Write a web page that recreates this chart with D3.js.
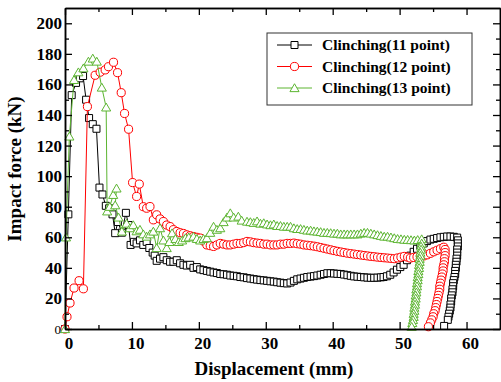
<!DOCTYPE html>
<html>
<head>
<meta charset="utf-8">
<script src="https://cdn.jsdelivr.net/npm/d3@7"></script>
<style>
  body { margin: 0; background: #fff; }
  svg { display: block; font-family: "Liberation Serif", "Times New Roman", serif; }
</style>
</head>
<body>
<div id="chart"></div>
<script>
// ---- data ----
const xMajor = [0, 10, 20, 30, 40, 50, 60];
const xMinor = [5, 15, 25, 35, 45, 55];
const yMajor = [0, 20, 40, 60, 80, 100, 120, 140, 160, 180, 200];
const yMinor = [10, 30, 50, 70, 90, 110, 130, 150, 170, 190];

const seriesNames = ['Clinching(11 point)', 'Clinching(12 point)', 'Clinching(13 point)'];

// [displacement mm, force kN]
const pts11 = [
  [0,0],[0.5,75],[1.0,153],[1.65,161],[2.2,164],[2.7,165.5],[3.15,150],[3.6,138],[4.15,134],[4.7,131],
  [5.15,92.5],[5.6,88],[6.1,80.6],[6.6,79],[7.1,75],[7.5,62.7],[7.9,70],[8.5,63],[9.1,76],[9.5,68],
  [9.8,55],[10.3,57],[10.7,56],[11.2,58],[11.7,55],[12.2,57],[12.6,53],[13.1,50],[13.4,48],[13.7,44.6],
  [14.2,46],[14.7,47],[15.2,45],[15.7,44],[16.2,44],[16.7,45],[17.2,43],[17.7,42],[18.2,41.5],[18.7,42],
  [19.2,40],[19.7,40.5],[20.2,39],[20.7,38.5],[21.2,38],[21.7,37.5],[22.2,37],[22.7,36.6],[23.2,36],[23.7,35.8],
  [24.2,35.5],[24.7,35],[25.2,34.8],[25.7,34.5],[26.2,34],[26.7,33.8],[27.2,33.3],[27.7,33],[28.2,32.6],[28.7,32.3],
  [29.2,32],[29.7,31.8],[30.2,31.5],[30.7,31.2],[31.2,31],[31.7,30.6],[32.2,30.3],[32.7,30],[33.2,29.8],[33.7,30.4],
  [34.2,31.5],[34.7,32.5],[35.2,33],[35.7,33.5],[36.2,34],[36.7,34.3],[37.2,34.6],[37.7,35],[38.2,35.5],[38.7,36],
  [39.2,36.5],[39.7,36.5],[40.2,36.3],[40.7,36.1],[41.2,36],[41.7,35.6],[42.2,35.2],[42.7,34.8],[43.2,34.4],[43.7,34.2],
  [44.2,34],[44.7,33.8],[45.2,33.6],[45.7,33.5],[46.2,33.5],[46.7,33.6],[47.2,33.8],[47.6,34],[48.1,34.5],[48.6,35.5],
  [49.1,37],[49.6,38.8],[50.1,40.5],[50.6,42],[51.1,45],[51.6,48],[52.1,50.5],[52.6,52.5],[53.1,54.5],[53.6,56],
  [54.1,57.5],[54.6,58.5],[55.1,59],[55.6,59.5],[56.1,60],[56.6,60.3],[57.1,60.5],[57.6,60.5],[58.1,60.3],[58.6,59.8],
  [58.7,58],[58.7,56],[58.7,54],[58.6,52],[58.6,50],[58.6,48],[58.5,46],[58.5,44],[58.4,42],[58.4,40],
  [58.3,38],[58.3,36],[58.2,34],[58.1,32],[58.0,30],[58.0,28],[57.9,26],[57.9,24],[57.8,22],[57.7,20],
  [57.7,18],[57.6,16],[57.6,14],[57.5,12],[57.4,10],[57.3,8],[57.2,6],[56.65,2]
];

const pts12 = [
  [0,0],[0.3,8],[0.75,17],[1.35,26.8],[2.1,31.6],[2.75,26.3],[3.35,145.5],[4.5,166],[5.25,168],[6.0,169.5],
  [6.5,171.6],[7.25,174.5],[7.85,167.7],[8.4,154.6],[8.9,141],[9.5,130.7],[10.1,95.8],[10.7,86.7],[11.1,94.8],[11.7,80],
  [12.2,79],[12.7,80.1],[13.2,71.4],[13.7,74.7],[14.2,72],[14.7,70.3],[15.2,68],[15.7,67],[16.2,65],[16.7,63.8],
  [17.2,63],[17.7,62.5],[18.2,61.6],[18.7,61],[19.2,60.5],[19.7,60],[20.2,59.5],[20.7,57.5],[21.2,55],[21.7,54.5],
  [22.2,54],[22.7,55],[23.2,56],[23.7,55.5],[24.2,55],[24.7,55],[25.2,55.5],[25.7,56],[26.2,56],[26.7,56.5],
  [27.2,57.3],[27.7,57],[28.2,56.5],[28.7,56.2],[29.2,56],[29.7,55.5],[30.2,55.5],[30.7,55],[31.2,55],[31.7,55],
  [32.2,55.5],[32.7,55.5],[33.2,56],[33.7,56],[34.2,56.2],[34.7,55.8],[35.2,55.5],[35.7,55],[36.2,54.8],[36.7,54.5],
  [37.2,54.2],[37.7,53.8],[38.2,53.3],[38.7,52.8],[39.2,52.3],[39.7,51.8],[40.2,51.3],[40.7,50.8],[41.2,50.4],[41.7,50],
  [42.2,49.6],[42.7,49.3],[43.2,49],[43.7,48.7],[44.2,48.4],[44.7,48.1],[45.2,47.8],[45.7,47.5],[46.2,47.3],[46.7,47],
  [47.2,46.8],[47.7,46.6],[48.2,46.4],[48.7,46.2],[49.2,46],[49.7,46.5],[50.2,47],[50.7,47.5],[51.2,47],[51.6,46.4],
  [52.1,46.8],[52.6,47.2],[53.1,47.5],[53.6,47.8],[54.1,48.5],[54.6,49.5],[55.1,50.5],[55.6,51.5],[56.1,52.5],[56.6,53.5],
  [56.8,52],[56.8,50],[56.8,48],[56.7,46],[56.7,44],[56.6,42],[56.5,40],[56.5,38],[56.4,36],[56.3,34],
  [56.2,32],[56.1,30],[56.0,28],[56.0,26],[55.9,24],[55.8,22],[55.7,20],[55.6,18],[55.5,16],[55.4,14],
  [55.3,12],[55.1,10],[55.0,8],[54.8,6],[54.6,4],[54.3,1.5]
];

const pts13 = [
  [0,0],[0.15,60],[0.65,126],[1.35,163],[2.0,168],[2.75,170.6],[3.5,175],[4.15,177],[4.75,175],[5.5,158],
  [6.15,145],[6.3,77],[6.7,80],[7.2,87.8],[7.7,92],[7.5,81],[8.0,73],[8.5,63.8],[9.2,69],[9.7,66],
  [10.2,68],[10.7,64],[11.2,65],[11.7,62],[12.2,60.5],[12.7,62],[13.2,63.8],[13.7,53],[14.2,66],[14.7,58],
  [15.2,53],[15.6,57],[16.0,62.7],[16.5,59],[17.0,57],[17.5,58],[18.0,59.5],[18.5,60],[19.2,60.5],[19.7,59],
  [20.2,58],[20.7,59],[21.2,59.5],[21.7,63],[22.2,67],[22.7,65],[23.2,66],[23.7,70],[24.2,73],[24.7,75.8],
  [25.2,73],[25.9,73.6],[26.4,71],[27.2,70.3],[27.7,70],[28.2,69.5],[28.7,70.5],[29.2,69],[29.7,69.3],[30.2,68.5],
  [30.7,68],[31.2,68.5],[31.7,67.5],[32.2,67.5],[32.7,67],[33.2,67],[33.7,67],[34.2,66],[34.7,65.5],[35.2,65.5],
  [35.7,65],[36.2,64.5],[36.7,64.5],[37.2,64],[37.7,63.8],[38.2,63.5],[38.7,63],[39.2,63],[39.7,62.8],[40.2,62.5],
  [40.7,62.5],[41.2,62],[41.7,62],[42.2,62],[42.7,62],[43.2,62],[43.7,62],[44.2,62.5],[44.7,63],[45.2,63],
  [45.7,62.5],[46.2,62],[46.7,61.5],[47.2,61],[47.7,60.5],[48.2,60.5],[48.7,60],[49.2,59.5],[49.7,59],[50.2,58.8],
  [50.7,58.5],[51.2,58.4],[51.7,58.2],[52.2,58],[52.7,58.3],[53.3,58.8],
  [53.3,56],[53.2,54],[53.2,52],[53.1,50],[53.1,48],[53.0,46],[53.0,44],[52.9,42],[52.9,40],[52.8,38],
  [52.8,36],[52.7,34],[52.7,32],[52.6,30],[52.6,28],[52.5,26],[52.5,24],[52.4,22],[52.4,20],[52.3,18],
  [52.3,16],[52.2,14],[52.2,12],[52.1,10],[52.1,8],[52.0,6],[51.9,4],[51.8,1.5]
];

// ---- setup ----
const W = 501, H = 382;
const plot = { left: 65, right: 500, top: 8, bottom: 329 };

const svg = d3.select('#chart').append('svg')
  .attr('width', W).attr('height', H);

const x = d3.scaleLinear().domain([0, 65]).range([plot.left, plot.right]);
const y = d3.scaleLinear().domain([0, 210]).range([plot.bottom, plot.top]);

const series = [
  { name: seriesNames[0], pts: pts11, color: '#000000', shape: 'square' },
  { name: seriesNames[1], pts: pts12, color: '#ff0000', shape: 'circle' },
  { name: seriesNames[2], pts: pts13, color: '#5cb531', shape: 'triangle' }
];

const symbols = {
  square: d3.symbol().type(d3.symbolSquare).size(49),
  circle: d3.symbol().type(d3.symbolCircle).size(52),
  triangle: d3.symbol().type(d3.symbolTriangle).size(36)
};

// ---- curves ----
const line = d3.line().x(d => x(d[0])).y(d => y(d[1]));

series.forEach(s => {
  const g = svg.append('g');
  g.append('path')
    .datum(s.pts)
    .attr('d', line)
    .attr('fill', 'none')
    .attr('stroke', s.color)
    .attr('stroke-width', 1);

  g.selectAll('path.m')
    .data(s.pts)
    .join('path')
    .attr('class', 'm')
    .attr('d', symbols[s.shape])
    .attr('transform', d => `translate(${x(d[0])},${y(d[1]) + (s.shape === 'triangle' ? 1 : 0)})`)
    .attr('fill', '#fff')
    .attr('stroke', s.color)
    .attr('stroke-width', 1);
});

// ---- axes ----
function styleAxis(g) {
  g.select('.domain').attr('stroke', '#000').attr('stroke-width', 1.5);
  g.selectAll('.tick line').attr('stroke', '#000').attr('stroke-width', 1.3);
  g.selectAll('text')
    .attr('fill', '#000')
    .style('font-size', '17px')
    .style('font-weight', 'bold')
    .style('font-family', '"Liberation Serif", serif');
}

// bottom
svg.append('g').attr('transform', `translate(0,${plot.bottom})`)
  .call(d3.axisBottom(x).tickValues(xMajor).tickSize(-7).tickPadding(8).tickSizeOuter(0))
  .call(styleAxis)
  .call(g => g.selectAll('text').attr('x', 3.5));
svg.append('g').attr('transform', `translate(0,${plot.bottom})`)
  .call(d3.axisBottom(x).tickValues(xMinor).tickSize(-4).tickFormat('').tickSizeOuter(0))
  .call(styleAxis);

// top
svg.append('g').attr('transform', `translate(0,${plot.top})`)
  .call(d3.axisTop(x).tickValues(xMajor).tickSize(-7).tickFormat('').tickSizeOuter(0))
  .call(styleAxis);
svg.append('g').attr('transform', `translate(0,${plot.top})`)
  .call(d3.axisTop(x).tickValues(xMinor).tickSize(-4).tickFormat('').tickSizeOuter(0))
  .call(styleAxis);

// left
svg.append('g').attr('transform', `translate(${plot.left},0)`)
  .call(d3.axisLeft(y).tickValues(yMajor).tickSize(-7).tickPadding(3).tickSizeOuter(0))
  .call(styleAxis)
  .call(g => g.selectAll('.tick').filter(d => d === 0).select('text')
    .style('font-size', '13px').style('font-weight', 'normal').attr('x', -4));
svg.append('g').attr('transform', `translate(${plot.left},0)`)
  .call(d3.axisLeft(y).tickValues(yMinor).tickSize(-4).tickFormat('').tickSizeOuter(0))
  .call(styleAxis);

// right
svg.append('g').attr('transform', `translate(${plot.right},0)`)
  .call(d3.axisRight(y).tickValues(yMajor).tickSize(-7).tickFormat('').tickSizeOuter(0))
  .call(styleAxis);
svg.append('g').attr('transform', `translate(${plot.right},0)`)
  .call(d3.axisRight(y).tickValues(yMinor).tickSize(-4).tickFormat('').tickSizeOuter(0))
  .call(styleAxis);

// axis titles
svg.append('text')
  .attr('x', 274).attr('y', 375)
  .attr('text-anchor', 'middle')
  .style('font-size', '19px').style('font-weight', 'bold')
  .text('Displacement (mm)');

svg.append('text')
  .attr('transform', 'translate(21,169) rotate(-90)')
  .attr('text-anchor', 'middle')
  .style('font-size', '19px').style('font-weight', 'bold')
  .text('Impact force (kN)');

// ---- legend ----
const legend = svg.append('g');
legend.append('rect')
  .attr('x', 267).attr('y', 33).attr('width', 205).attr('height', 72)
  .attr('fill', '#fff').attr('stroke', '#333').attr('stroke-width', 1);

series.forEach((s, i) => {
  const ly = 45 + i * 21.5;
  legend.append('line')
    .attr('x1', 277).attr('x2', 312).attr('y1', ly).attr('y2', ly)
    .attr('stroke', s.color).attr('stroke-width', 1);
  legend.append('path')
    .attr('d', symbols[s.shape])
    .attr('transform', `translate(294.5,${ly + (s.shape === 'triangle' ? 1 : 0)})`)
    .attr('fill', '#fff').attr('stroke', s.color).attr('stroke-width', 1);
  legend.append('text')
    .attr('x', 322).attr('y', ly + 5)
    .style('font-size', '15.5px').style('font-weight', 'bold')
    .text(s.name);
});
</script>
</body>
</html>
